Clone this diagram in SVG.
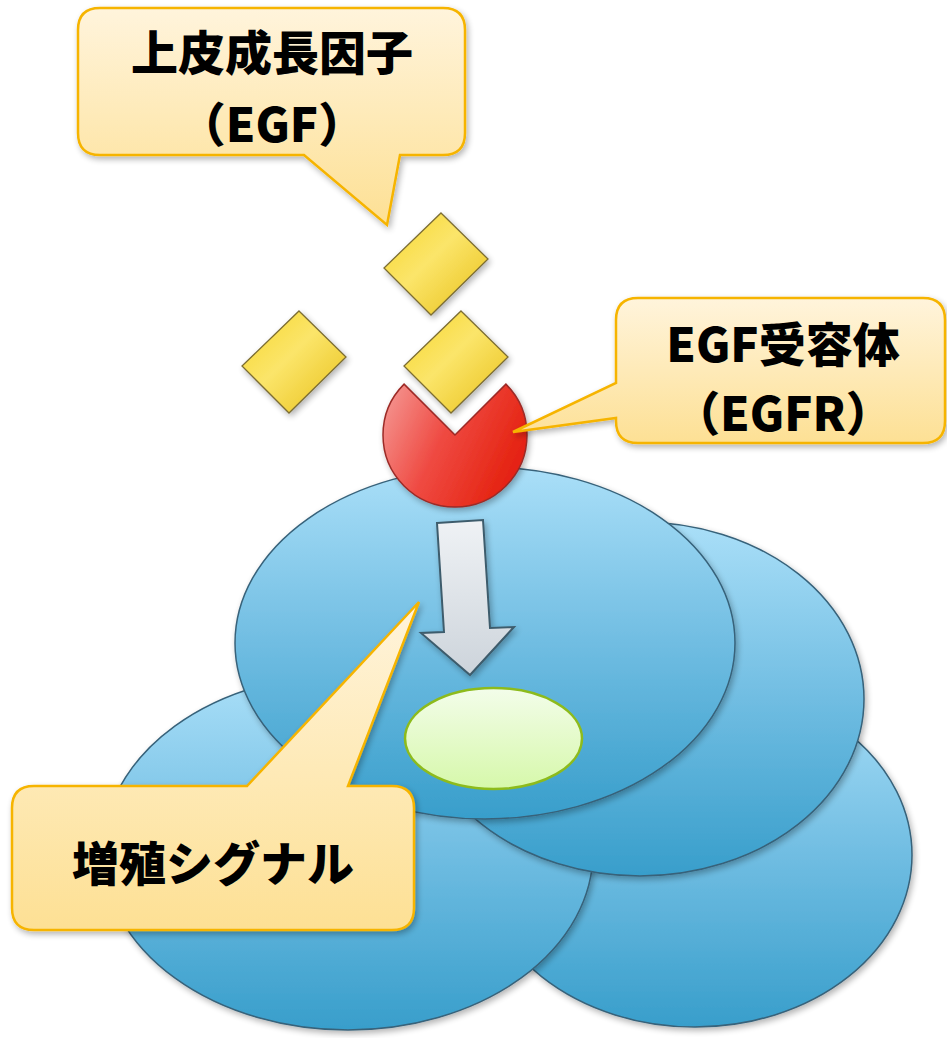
<svg xmlns="http://www.w3.org/2000/svg" width="947" height="1038" viewBox="0 0 947 1038">
  <defs>
    <linearGradient id="cellFill" x1="0" y1="0" x2="0" y2="1">
      <stop offset="0" stop-color="#aadff8"/>
      <stop offset="0.5" stop-color="#70bde2"/>
      <stop offset="1" stop-color="#389ecb"/>
    </linearGradient>
    <linearGradient id="calloutFill" x1="0" y1="0" x2="0" y2="1">
      <stop offset="0" stop-color="#fff4dc"/>
      <stop offset="1" stop-color="#fde094"/>
    </linearGradient>
    <linearGradient id="nucleusFill" x1="0" y1="0" x2="0" y2="1">
      <stop offset="0" stop-color="#f3fdea"/>
      <stop offset="1" stop-color="#d6f8aa"/>
    </linearGradient>
    <linearGradient id="arrowFill" x1="0" y1="0" x2="0" y2="1">
      <stop offset="0" stop-color="#eff2f5"/>
      <stop offset="1" stop-color="#cdd4db"/>
    </linearGradient>
    <linearGradient id="ligandFill" x1="0" y1="0" x2="1" y2="1">
      <stop offset="0" stop-color="#f7d62c"/>
      <stop offset="0.45" stop-color="#fbe56a"/>
      <stop offset="1" stop-color="#e8bf16"/>
    </linearGradient>
    <linearGradient id="receptorFill" x1="0" y1="0" x2="1" y2="0.4">
      <stop offset="0" stop-color="#f59c98"/>
      <stop offset="0.5" stop-color="#ef4a42"/>
      <stop offset="1" stop-color="#e52412"/>
    </linearGradient>
    <filter id="softShadow" x="-10%" y="-10%" width="125%" height="125%">
      <feGaussianBlur in="SourceAlpha" stdDeviation="3"/>
      <feOffset dx="2" dy="3" result="b"/>
      <feComponentTransfer><feFuncA type="linear" slope="0.3"/></feComponentTransfer>
      <feMerge><feMergeNode/><feMergeNode in="SourceGraphic"/></feMerge>
    </filter>
    <polygon id="ligand" points="0,0 47,46 -10,102 -57,55"/>
  </defs>
  <style>
    .cell { fill: url(#cellFill); stroke: #37627a; stroke-width: 1.5; filter: url(#softShadow); }
    .callout { fill: url(#calloutFill); stroke: #f6b400; stroke-width: 2.5; stroke-linejoin: miter; filter: url(#softShadow); }
    .label { font-family: "Noto Sans CJK JP", "Noto Sans", sans-serif; font-weight: 900; font-size: 47px; fill: #000; text-anchor: middle; }
    .ligand { fill: url(#ligandFill); stroke: #7c6d33; stroke-width: 1.3; filter: url(#softShadow); }
  </style>

  <!-- cell cluster, back to front -->
  <g id="cell-bottom-right">
    <ellipse class="cell" cx="695" cy="855" rx="217" ry="172"/>
  </g>
  <g id="cell-bottom-left">
    <ellipse class="cell" cx="348" cy="852" rx="245" ry="178"/>
  </g>
  <g id="cell-middle-right">
    <ellipse class="cell" cx="640" cy="699" rx="224" ry="177"/>
  </g>
  <g id="cell-top">
    <ellipse class="cell" cx="485" cy="643" rx="250" ry="176"/>
  </g>

  <g id="nucleus">
    <ellipse cx="493.5" cy="738.5" rx="88.5" ry="50.5" fill="url(#nucleusFill)" stroke="#8dbb1c" stroke-width="2.5"/>
  </g>

  <!-- signal arrow from receptor to nucleus -->
  <g id="connectors">
    <path d="M437,523 L483,520 L490,628 L514,627 L470,675 L421,633 L444,632 Z" fill="url(#arrowFill)" stroke="#3e5c6c" stroke-width="2" stroke-linejoin="miter" filter="url(#softShadow)"/>
  </g>

  <!-- EGF receptor -->
  <g id="receptor">
    <path d="M455,435 L404.1,384.1 A72,72 0 1,0 505.9,384.1 Z" fill="url(#receptorFill)" stroke="#9c2a26" stroke-width="1.5" filter="url(#softShadow)"/>
  </g>

  <!-- EGF ligands -->
  <g id="ligand-top"><use href="#ligand" class="ligand" x="441" y="213"/></g>
  <g id="ligand-left"><use href="#ligand" class="ligand" x="299" y="311"/></g>
  <g id="ligand-right"><use href="#ligand" class="ligand" x="461" y="311"/></g>

  <!-- callouts -->
  <g id="callout-egf">
    <path class="callout" d="M100,8 H443 Q465,8 465,30 V133 Q465,155 443,155 H400 L387,225 L304,155 H100 Q78,155 78,133 V30 Q78,8 100,8 Z"/>
    <text class="label" x="272" y="70">上皮成長因子</text>
    <text class="label" x="272" y="142">（EGF）</text>
  </g>
  <g id="callout-egfr">
    <path class="callout" d="M638,298 H923 Q945,298 945,320 V421 Q945,443 923,443 H638 Q616,443 616,421 V418 L513,432 L616,383 V320 Q616,298 638,298 Z"/>
    <text class="label" x="783" y="362">EGF受容体</text>
    <text class="label" x="783" y="431">（EGFR）</text>
  </g>
  <g id="callout-signal">
    <path class="callout" d="M34,786 H247 L419,602 L348,786 H392 Q414,786 414,808 V908 Q414,930 392,930 H34 Q12,930 12,908 V808 Q12,786 34,786 Z"/>
    <text class="label" x="213" y="881">増殖シグナル</text>
  </g>
</svg>
